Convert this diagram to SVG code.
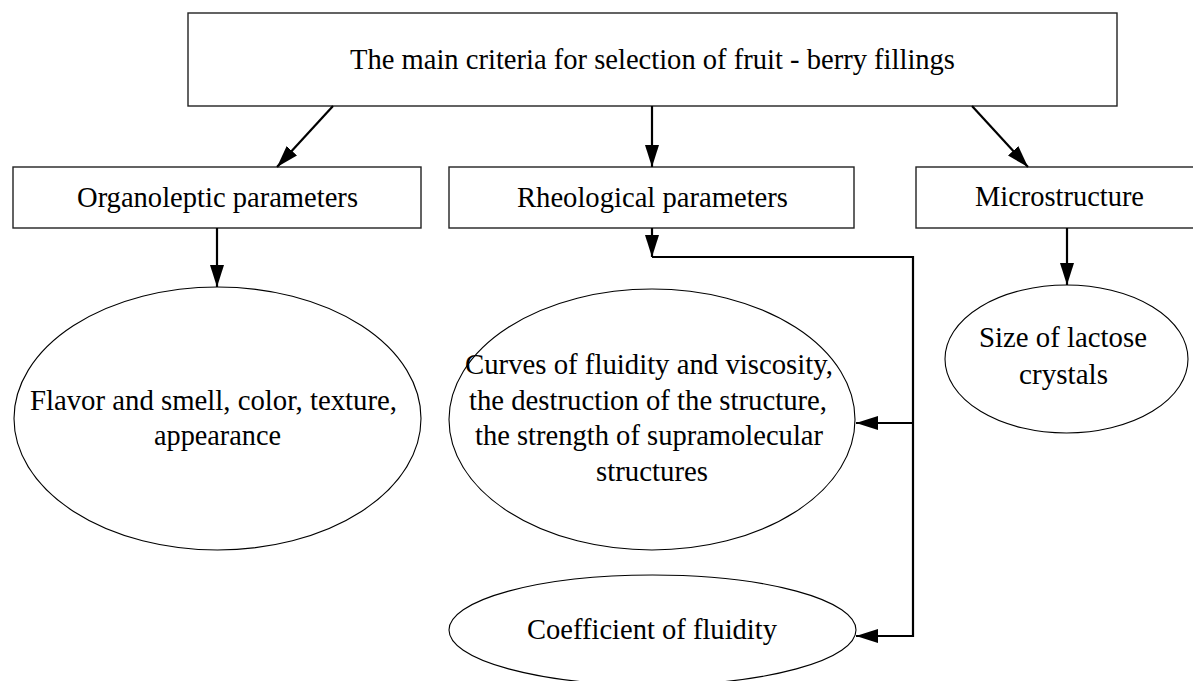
<svg xmlns="http://www.w3.org/2000/svg" width="1193" height="681" viewBox="0 0 1193 681">
<defs>
<style>
.box{fill:#fff;stroke:#222;stroke-width:1.4}
.ell{fill:#fff;stroke:#000;stroke-width:1.1}
.t{font-family:"Liberation Serif","Times New Roman",serif;font-size:30px;fill:#000;text-anchor:middle}
.c{fill:none;stroke:#000;stroke-width:2.2}
</style>
<marker id="ah" markerUnits="userSpaceOnUse" markerWidth="22" markerHeight="14" refX="22" refY="7" orient="auto">
<path d="M0,0 L22,7 L0,14 Z" fill="#000"/>
</marker>
</defs>
<rect width="1193" height="681" fill="#fff"/>
<g id="n-main">
<rect class="box" x="188" y="13" width="929" height="93"/>
<text class="t" x="652.5" y="69" textLength="605" lengthAdjust="spacingAndGlyphs">The main criteria for selection of fruit - berry fillings</text>
</g>
<g id="n-organoleptic">
<rect class="box" x="13" y="167" width="408" height="61"/>
<text class="t" x="217.5" y="207" textLength="281" lengthAdjust="spacingAndGlyphs">Organoleptic parameters</text>
</g>
<g id="n-rheological">
<rect class="box" x="449" y="167" width="405" height="61"/>
<text class="t" x="652.5" y="207" textLength="271" lengthAdjust="spacingAndGlyphs">Rheological parameters</text>
</g>
<g id="n-micro">
<rect class="box" x="916" y="167" width="290" height="61"/>
<text class="t" x="1059.5" y="206" textLength="169" lengthAdjust="spacingAndGlyphs">Microstructure</text>
</g>
<g id="n-flavor">
<ellipse class="ell" cx="217.5" cy="418.5" rx="203.5" ry="131.5"/>
<text class="t" x="213.5" y="410" textLength="367" lengthAdjust="spacingAndGlyphs">Flavor and smell, color, texture,</text>
<text class="t" x="217.5" y="445" textLength="127" lengthAdjust="spacingAndGlyphs">appearance</text>
</g>
<g id="n-curves">
<ellipse class="ell" cx="652" cy="419.5" rx="203" ry="130.5"/>
<text class="t" x="649" y="374" textLength="368" lengthAdjust="spacingAndGlyphs">Curves of fluidity and viscosity,</text>
<text class="t" x="648" y="410" textLength="358" lengthAdjust="spacingAndGlyphs">the destruction of the structure,</text>
<text class="t" x="649" y="445" textLength="348" lengthAdjust="spacingAndGlyphs">the strength of supramolecular</text>
<text class="t" x="652" y="481" textLength="112" lengthAdjust="spacingAndGlyphs">structures</text>
</g>
<g id="n-coef">
<ellipse class="ell" cx="652.5" cy="630" rx="203.5" ry="55"/>
<text class="t" x="652" y="639" textLength="250" lengthAdjust="spacingAndGlyphs">Coefficient of fluidity</text>
</g>
<g id="n-size">
<ellipse class="ell" cx="1066.5" cy="359" rx="121.5" ry="74"/>
<text class="t" x="1063" y="347" textLength="168" lengthAdjust="spacingAndGlyphs">Size of lactose</text>
<text class="t" x="1063.5" y="384" textLength="89" lengthAdjust="spacingAndGlyphs">crystals</text>
</g>
<g id="connectors">
<line class="c" x1="333" y1="106" x2="277" y2="167" marker-end="url(#ah)"/>
<line class="c" x1="652" y1="106" x2="652" y2="167" marker-end="url(#ah)"/>
<line class="c" x1="972" y1="106" x2="1028" y2="167" marker-end="url(#ah)"/>
<line class="c" x1="217" y1="228" x2="217" y2="287" marker-end="url(#ah)"/>
<line class="c" x1="652" y1="228" x2="652" y2="257" marker-end="url(#ah)"/>
<path class="c" d="M652,257 H913 V636 H856" marker-end="url(#ah)"/>
<line class="c" x1="913" y1="423" x2="856" y2="423" marker-end="url(#ah)"/>
<line class="c" x1="1067" y1="228" x2="1067" y2="285" marker-end="url(#ah)"/>
</g>
</svg>
